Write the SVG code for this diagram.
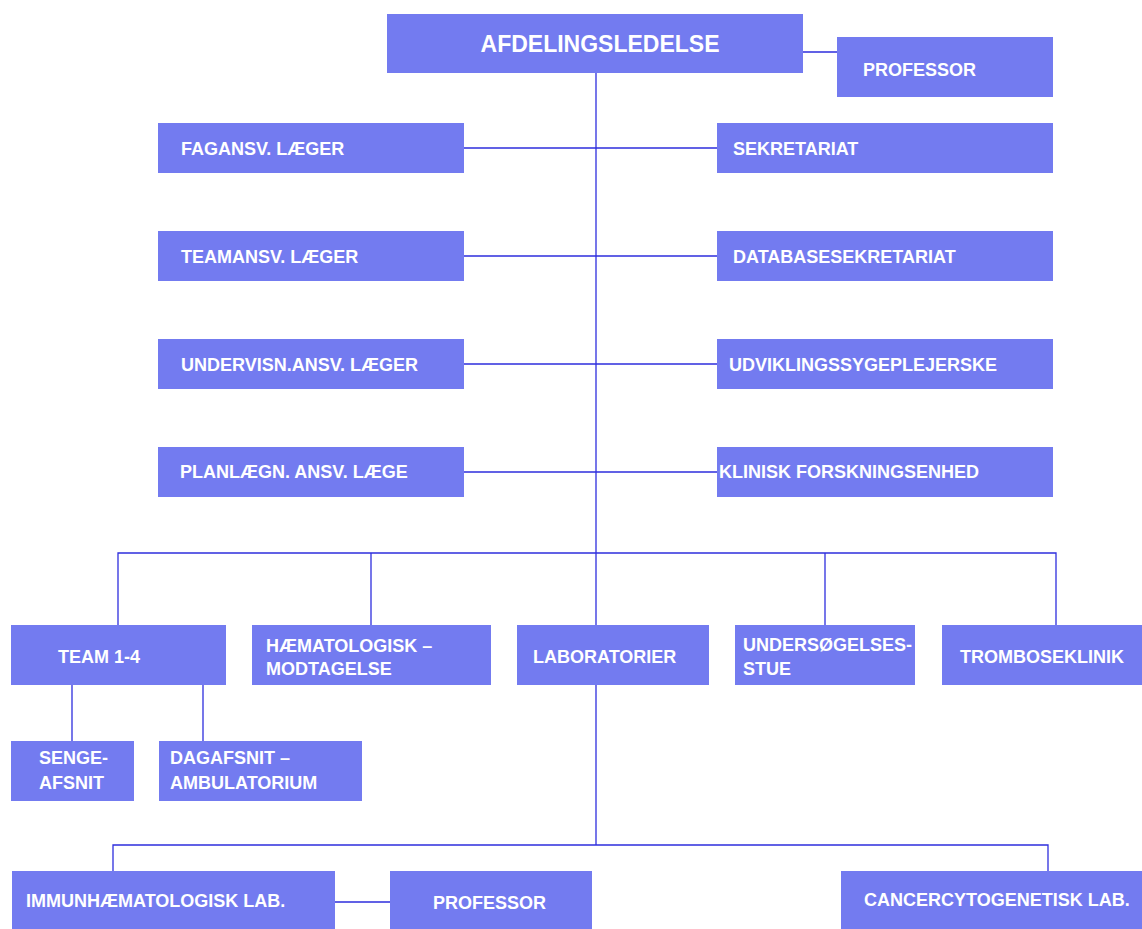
<svg xmlns="http://www.w3.org/2000/svg" width="1142" height="929" viewBox="0 0 1142 929">
<style>
.b{fill:#737BF0}
.t{font-family:"Liberation Sans",Arial,sans-serif;font-weight:bold;fill:#fff;font-size:18px}
.c{stroke:#2E2EDD;stroke-width:1.3;fill:none}
</style>
<rect width="1142" height="929" fill="#fff"/>
<g id="connectors">
<path class="c" d="M596 73V845M803 52H837M464 148H717M464 256H717M464 364H717M464 472H717M118 625V553H1056V625M371 553V625M825 553V625M72 685V741M203 685V741M113 871V845H1048V871M335 902H390"/>
</g>
<g id="afdelingsledelse"><rect class="b" x="387" y="14" width="416" height="59"/><text class="t" x="600" y="52" text-anchor="middle" style="font-size:23px">AFDELINGSLEDELSE</text></g>
<g id="professor1"><rect class="b" x="837" y="37" width="216" height="60"/><text class="t" x="863" y="76">PROFESSOR</text></g>
<g id="fagansv"><rect class="b" x="158" y="123" width="306" height="50"/><text class="t" x="181" y="155">FAGANSV. LÆGER</text></g>
<g id="sekretariat"><rect class="b" x="717" y="123" width="336" height="50"/><text class="t" x="733" y="155">SEKRETARIAT</text></g>
<g id="teamansv"><rect class="b" x="158" y="231" width="306" height="50"/><text class="t" x="181" y="263">TEAMANSV. LÆGER</text></g>
<g id="databasesekretariat"><rect class="b" x="717" y="231" width="336" height="50"/><text class="t" x="733" y="263">DATABASESEKRETARIAT</text></g>
<g id="undervisn"><rect class="b" x="158" y="339" width="306" height="50"/><text class="t" x="181" y="371">UNDERVISN.ANSV. LÆGER</text></g>
<g id="udviklingssygeplejerske"><rect class="b" x="717" y="339" width="336" height="50"/><text class="t" x="729" y="371">UDVIKLINGSSYGEPLEJERSKE</text></g>
<g id="planlaegn"><rect class="b" x="158" y="447" width="306" height="50"/><text class="t" x="180" y="478">PLANLÆGN. ANSV. LÆGE</text></g>
<g id="klinisk"><rect class="b" x="717" y="447" width="336" height="50"/><text class="t" x="719" y="478">KLINISK FORSKNINGSENHED</text></g>
<g id="team"><rect class="b" x="11" y="625" width="215" height="60"/><text class="t" x="58" y="663">TEAM 1-4</text></g>
<g id="haematologisk"><rect class="b" x="252" y="625" width="239" height="60"/><text class="t" x="266" y="652">HÆMATOLOGISK –</text><text class="t" x="266" y="675">MODTAGELSE</text></g>
<g id="laboratorier"><rect class="b" x="517" y="625" width="192" height="60"/><text class="t" x="533" y="663">LABORATORIER</text></g>
<g id="undersoegelses"><rect class="b" x="735" y="625" width="180" height="60"/><text class="t" x="743" y="651">UNDERSØGELSES-</text><text class="t" x="743" y="675">STUE</text></g>
<g id="tromboseklinik"><rect class="b" x="942" y="625" width="200" height="60"/><text class="t" x="960" y="663">TROMBOSEKLINIK</text></g>
<g id="sengeafsnit"><rect class="b" x="11" y="741" width="123" height="60"/><text class="t" x="39" y="764">SENGE-</text><text class="t" x="39" y="789">AFSNIT</text></g>
<g id="dagafsnit"><rect class="b" x="159" y="741" width="203" height="60"/><text class="t" x="170" y="764">DAGAFSNIT –</text><text class="t" x="170" y="789">AMBULATORIUM</text></g>
<g id="immun"><rect class="b" x="12" y="871" width="323" height="58"/><text class="t" x="26" y="907">IMMUNHÆMATOLOGISK LAB.</text></g>
<g id="professor2"><rect class="b" x="390" y="871" width="202" height="58"/><text class="t" x="433" y="909">PROFESSOR</text></g>
<g id="cancer"><rect class="b" x="841" y="871" width="301" height="58"/><text class="t" x="864" y="906">CANCERCYTOGENETISK LAB.</text></g>
</svg>
